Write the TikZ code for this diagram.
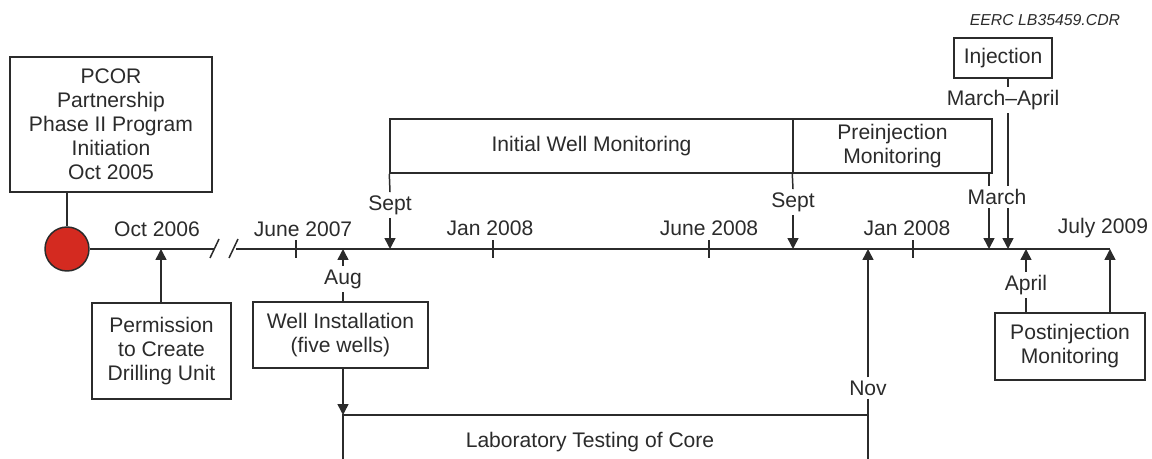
\documentclass[tikz,border=0pt]{standalone}
\usepackage{fontspec}
\setmainfont{Liberation Sans}
\usetikzlibrary{arrows.meta}
\definecolor{ink}{HTML}{2B2B2B}
\definecolor{dotred}{HTML}{D42A20}

\begin{document}
\begin{tikzpicture}[x=0.02cm, y=-0.02cm, line width=0.85pt, color=ink,
        >={Triangle[length=0.22cm, width=0.22cm]},
        font=\fontsize{12}{13.7}\selectfont,
        box/.style={draw, align=center, inner sep=0pt},
        lbl/.style={inner sep=1.5pt}]
    \useasboundingbox (0, 0) rectangle (1152, 459);

    % points on the time line
    \coordinate (t-oct06) at (161, 249);
    \coordinate (t-aug) at (343, 249);
    \coordinate (t-sep1) at (390, 249);
    \coordinate (t-sep2) at (793, 249);
    \coordinate (t-nov) at (868, 249);
    \coordinate (t-mar1) at (989, 249);
    \coordinate (t-mar2) at (1008, 249);
    \coordinate (t-apr) at (1026, 249);
    \coordinate (t-jul) at (1110, 249);
    \coordinate (cut-l) at (214, 249);
    \coordinate (cut-r) at (236, 249);

    % start of the program
    \node[box, minimum width=4.04cm, minimum height=2.7cm] (pcor) at (111, 124.5)
        {PCOR\\Partnership\\Phase II Program\\Initiation\\Oct 2005};
    \node[circle, draw, fill=dotred, minimum size=0.88cm, inner sep=0pt] (start) at (67, 249) {};
    \draw (pcor.south -| start) -- (start.north);

    % time line with the break
    \draw (start.east) -- (cut-l);
    \draw (cut-r) -- (t-jul);
    \draw (210, 258) -- (219, 239);
    \draw (229, 258) -- (238, 239);
    \foreach \x in {296, 493, 709, 913}
        \draw (\x, 240) -- (\x, 258);

    % dates above the line
    \node[lbl] (d-oct06) at (157, 229) {Oct 2006};
    \node[lbl] (d-jun07) at (303, 229) {June 2007};
    \node[lbl] (d-jan08a) at (490, 228) {Jan 2008};
    \node[lbl] (d-jun08) at (709, 228) {June 2008};
    \node[lbl] (d-jan08b) at (907, 228) {Jan 2008};
    \node[lbl] (d-jul09) at (1103, 228) {July 2009};

    % permission
    \node[box, minimum width=2.78cm, minimum height=1.92cm] (perm) at (161.5, 351)
        {Permission\\to Create\\Drilling Unit};
    \draw[->] (perm.north -| t-oct06) -- (t-oct06);

    % well installation and core testing
    \node[box, minimum width=3.5cm, minimum height=1.32cm] (well) at (340.5, 335)
        {Well Installation\\(five wells)};
    \node[lbl] (aug) at (343, 279) {Aug};
    \draw (well.north -| aug) -- (aug.south);
    \draw[->] (aug.north) -- (t-aug);
    \coordinate (lab-l) at (343, 415);
    \coordinate (lab-r) at (868, 415);
    \draw[->] (well.south -| lab-l) -- (lab-l);
    \draw (343, 459) -- (lab-l) -- (lab-r) -- (868, 459);
    \node[lbl] (lab) at (590, 442) {Laboratory Testing of Core};
    \node[lbl] (nov) at (868, 388) {Nov};
    \draw (nov.south) -- (lab-r);
    \draw[->] (nov.north) -- (t-nov);

    % monitoring before injection
    \node[box, minimum width=8.06cm, minimum height=1.08cm] (iwm) at (591.5, 146)
        {Initial Well Monitoring};
    \node[box, minimum width=3.98cm, minimum height=1.08cm] (prem) at (892.5, 146)
        {Preinjection\\Monitoring};
    \node[lbl] (sep1) at (390, 205) {Sept};
    \node[lbl] (sep2) at (793, 202) {Sept};
    \draw (iwm.south west) -- (sep1.north);
    \draw[->] (sep1.south) -- (t-sep1);
    \draw (prem.south west) -- (sep2.north);
    \draw[->] (sep2.south) -- (t-sep2);

    % injection
    \node[box, minimum width=1.96cm, minimum height=0.8cm] (inj) at (1003, 58) {Injection};
    \node[lbl] (marapr) at (1003, 100) {March--April};
    \node[lbl] (march) at (997, 197) {March};
    \draw (prem.south -| t-mar1) -- (march.north -| t-mar1);
    \draw[->] (march.south -| t-mar1) -- (t-mar1);
    \draw (inj.south -| t-mar2) -- (marapr.north -| t-mar2);
    \draw (marapr.south -| t-mar2) -- (march.north -| t-mar2);
    \draw[->] (march.south -| t-mar2) -- (t-mar2);

    % monitoring after injection
    \node[box, minimum width=3cm, minimum height=1.34cm] (post) at (1070, 346.5)
        {Postinjection\\Monitoring};
    \node[lbl] (april) at (1026, 285) {April};
    \draw (post.north -| april) -- (april.south);
    \draw[->] (april.north) -- (t-apr);
    \draw[->] (post.north -| t-jul) -- (t-jul);

    \node[lbl, font=\fontsize{9}{11}\selectfont\itshape] (fig) at (1045, 20) {EERC LB35459.CDR};
\end{tikzpicture}
\end{document}
